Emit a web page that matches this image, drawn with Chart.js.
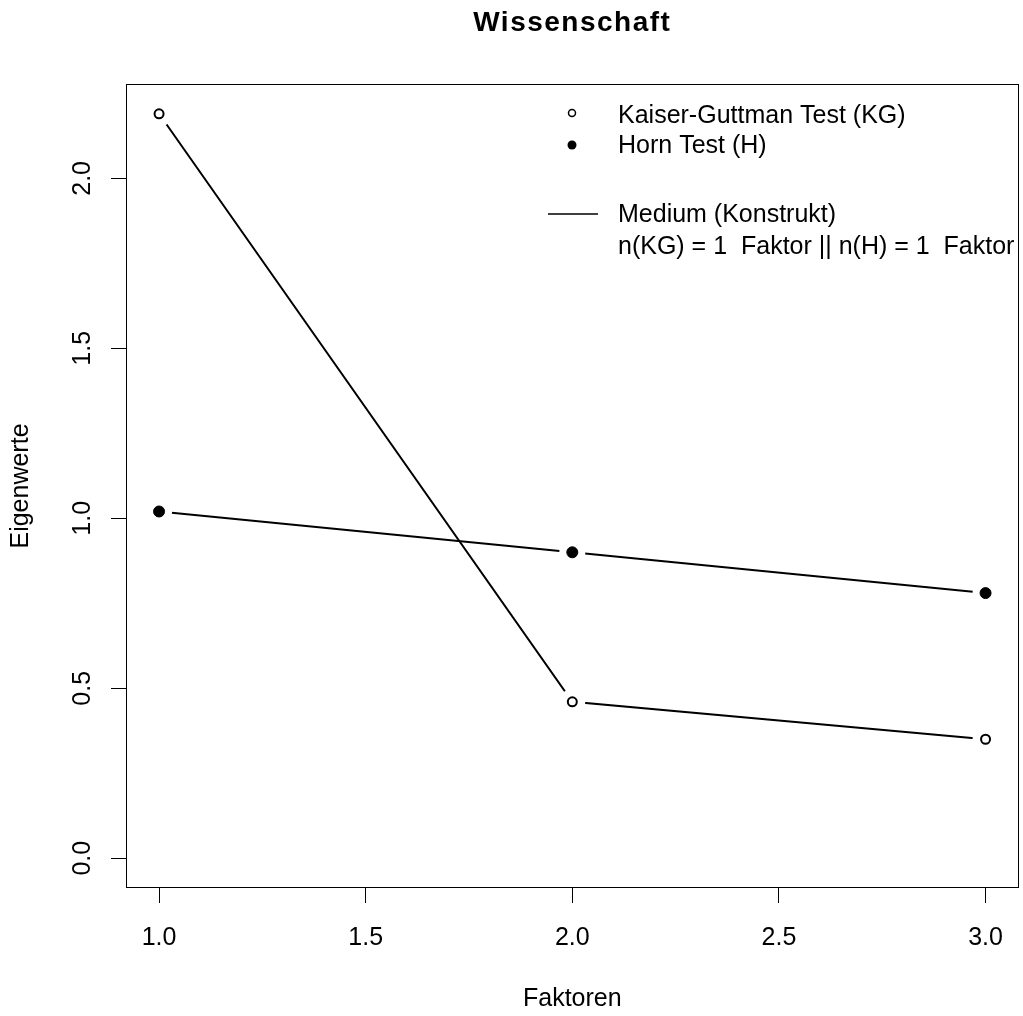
<!DOCTYPE html>
<html>
<head>
<meta charset="utf-8">
<script src="https://cdn.jsdelivr.net/npm/chart.js@4.4.1/dist/chart.umd.min.js"></script>
<style>
  html, body { margin: 0; padding: 0; background: #fff; }
  canvas { display: block; }
</style>
</head>
<body>
<canvas id="chart" width="1023" height="1016"></canvas>
<script>
// Daten
var faktoren = [1, 2, 3];
var kgWerte = [2.19, 0.46, 0.35];
var hornWerte = [1.02, 0.90, 0.78];
var xTicks = [1.0, 1.5, 2.0, 2.5, 3.0];
var yTicks = [0.0, 0.5, 1.0, 1.5, 2.0];
var legendTexte = ["Kaiser-Guttman Test (KG)", "Horn Test (H)", "Medium (Konstrukt)", "n(KG) = 1  Faktor || n(H) = 1  Faktor"];
var titel = "Wissenschaft";

var schrift = "'Liberation Sans', Arial, sans-serif";

function punkte(werte) {
  return faktoren.map(function (f, i) { return {x: f, y: werte[i]}; });
}

// Rahmen, Titel und Legende wie in R
var rPlot = {
  id: 'rPlot',
  beforeDatasetsDraw: function (chart) {
    var ctx = chart.ctx, a = chart.chartArea;
    ctx.save();
    ctx.strokeStyle = '#000';
    ctx.lineWidth = 1;
    ctx.strokeRect(Math.round(a.left) + 0.5, Math.round(a.top) + 0.5,
      Math.round(a.right - a.left) - 1, Math.round(a.bottom - a.top) - 1);
    ctx.restore();
  },
  afterDraw: function (chart) {
    var ctx = chart.ctx, a = chart.chartArea;
    ctx.save();
    ctx.fillStyle = '#000';
    ctx.textBaseline = 'middle';
    ctx.textAlign = 'center';
    ctx.font = 'bold 28px ' + schrift;
    ctx.letterSpacing = '1.5px';
    ctx.fillText(titel, (a.left + a.right) / 2, 23);
    ctx.letterSpacing = '0px';

    // Legende
    ctx.font = '25px ' + schrift;
    ctx.textAlign = 'left';
    var tx = 618;
    var zeilen = [116, 146, 215, 247];
    legendTexte.forEach(function (t, i) { ctx.fillText(t, tx, zeilen[i]); });

    ctx.lineWidth = 1.5;
    ctx.strokeStyle = '#000';
    ctx.beginPath();
    ctx.arc(572, 113, 3.5, 0, Math.PI * 2);
    ctx.stroke();
    ctx.beginPath();
    ctx.arc(572, 145, 4.5, 0, Math.PI * 2);
    ctx.fill();
    ctx.beginPath();
    ctx.moveTo(548, 214);
    ctx.lineTo(598, 214);
    ctx.stroke();
    ctx.restore();
  }
};

new Chart(document.getElementById('chart'), {
  type: 'scatter',
  data: {
    datasets: [
      { // KG Punkte
        data: punkte(kgWerte),
        showLine: false,
        pointRadius: 4.5,
        pointBorderWidth: 2,
        pointBackgroundColor: '#fff',
        pointBorderColor: '#000'
      },
      { // Horn Punkte
        data: punkte(hornWerte),
        showLine: false,
        pointRadius: 5.5,
        pointBorderWidth: 1,
        pointBackgroundColor: '#000',
        pointBorderColor: '#000'
      },
      { // Luecke um die Punkte (type "b")
        data: punkte(kgWerte),
        showLine: false,
        pointRadius: 13,
        pointBorderWidth: 0,
        pointBackgroundColor: '#fff',
        pointBorderColor: '#fff'
      },
      {
        data: punkte(hornWerte),
        showLine: false,
        pointRadius: 13,
        pointBorderWidth: 0,
        pointBackgroundColor: '#fff',
        pointBorderColor: '#fff'
      },
      { // KG Linie
        data: punkte(kgWerte),
        showLine: true,
        borderColor: '#000',
        borderWidth: 2,
        pointRadius: 0
      },
      { // Horn Linie
        data: punkte(hornWerte),
        showLine: true,
        borderColor: '#000',
        borderWidth: 2,
        pointRadius: 0
      }
    ]
  },
  options: {
    responsive: false,
    animation: false,
    events: [],
    layout: { autoPadding: false, padding: { top: 84, right: 2, left: 0, bottom: 0 } },
    plugins: {
      legend: { display: false },
      tooltip: { enabled: false }
    },
    scales: {
      x: {
        type: 'linear',
        min: 0.92,
        max: 3.08,
        afterBuildTicks: function (s) { s.ticks = xTicks.map(function (v) { return {value: v}; }); },
        afterFit: function (s) { s.height = 128; },
        border: { display: false },
        grid: { drawOnChartArea: false, color: '#000', tickLength: 15, tickWidth: 1 },
        ticks: {
          color: '#000',
          font: { family: schrift, size: 25 },
          padding: 20,
          maxRotation: 0,
          autoSkip: false,
          callback: function (v) { return v.toFixed(1); }
        },
        title: {
          display: true,
          text: 'Faktoren',
          color: '#000',
          font: { family: schrift, size: 25 },
          padding: { top: 0, bottom: 2 }
        }
      },
      y: {
        type: 'linear',
        min: -0.0876,
        max: 2.2776,
        afterBuildTicks: function (s) { s.ticks = yTicks.map(function (v) { return {value: v}; }); },
        afterFit: function (s) { s.width = 126; },
        border: { display: false },
        grid: { drawOnChartArea: false, color: '#000', tickLength: 15, tickWidth: 1 },
        ticks: {
          color: '#000',
          font: { family: schrift, size: 25 },
          padding: 11,
          minRotation: 90,
          maxRotation: 90,
          crossAlign: 'center',
          autoSkip: false,
          callback: function (v) { return v.toFixed(1); }
        },
        title: {
          display: true,
          text: 'Eigenwerte',
          color: '#000',
          font: { family: schrift, size: 25 },
          padding: { top: 6, bottom: 0 }
        }
      }
    }
  },
  plugins: [rPlot]
});
</script>
</body>
</html>
